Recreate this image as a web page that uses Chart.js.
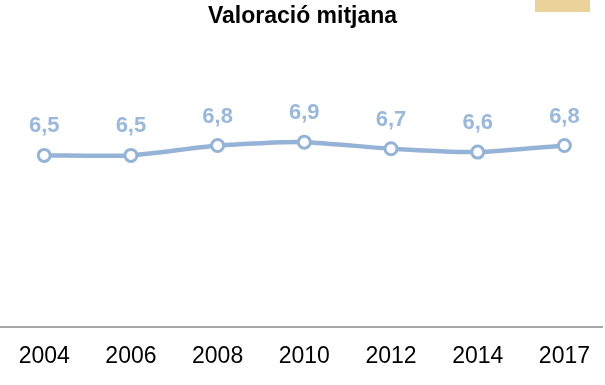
<!DOCTYPE html>
<html>
<head>
<meta charset="utf-8">
<script src="https://cdn.jsdelivr.net/npm/chart.js@4/dist/chart.umd.min.js"></script>
<style>
  html, body { margin: 0; padding: 0; background: #ffffff; }
  #wrap { width: 605px; height: 385px; position: relative; }
</style>
</head>
<body>
<div id="wrap"><canvas id="chart" width="605" height="385"></canvas></div>
<script>
// Survey years and average rating per year
const years = ['2004', '2006', '2008', '2010', '2012', '2014', '2017'];
const ratings = [6.5, 6.5, 6.8, 6.9, 6.7, 6.6, 6.8];
const chartTitle = 'Valoració mitjana';

const lineColor = '#95b3d7';
const fontFamily = '"Liberation Sans", Arial, sans-serif';

// Value labels above each point, written with a decimal comma
const valueLabels = {
  id: 'valueLabels',
  afterDatasetsDraw(chart) {
    const ctx = chart.ctx;
    const meta = chart.getDatasetMeta(0);
    ctx.save();
    ctx.fillStyle = '#9ab8da';
    ctx.font = 'bold 22px ' + fontFamily;
    ctx.textAlign = 'center';
    ctx.textBaseline = 'middle';
    meta.data.forEach((pt, i) => {
      const txt = ratings[i].toFixed(1).replace('.', ',');
      ctx.fillText(txt, pt.x, pt.y - 29);
    });
    ctx.restore();
  }
};

// Small accent band in the top-right corner
const accentBand = {
  id: 'accentBand',
  beforeDraw(chart) {
    const ctx = chart.ctx;
    ctx.save();
    ctx.fillStyle = '#ebd29b';
    ctx.fillRect(535, 0, 55, 12);
    ctx.restore();
  }
};

new Chart(document.getElementById('chart'), {
  type: 'line',
  data: {
    datasets: [{
      data: years.map((_, i) => ({ x: i, y: ratings[i] })),
      borderColor: lineColor,
      borderWidth: 4.5,
      pointRadius: 6,
      pointBorderWidth: 3,
      pointBackgroundColor: '#ffffff',
      pointBorderColor: lineColor,
      tension: 0.2
    }]
  },
  options: {
    responsive: false,
    animation: false,
    events: [],
    layout: { autoPadding: false, padding: { left: 0, right: 0, top: 0, bottom: 0 } },
    plugins: {
      legend: { display: false },
      tooltip: { enabled: false },
      title: {
        display: true,
        text: chartTitle,
        color: '#000000',
        font: { family: fontFamily, size: 23, weight: 'bold' },
        padding: { top: 3, bottom: 9 }
      }
    },
    scales: {
      x: {
        type: 'linear',
        min: -0.51,
        max: 6.44,
        afterBuildTicks(scale) {
          scale.ticks = years.map((_, i) => ({ value: i }));
        },
        grid: { display: false, drawTicks: false },
        border: { display: true, color: '#a6a6a6', width: 2 },
        ticks: {
          color: '#000000',
          padding: 15,
          autoSkip: false,
          maxRotation: 0,
          font: { family: fontFamily, size: 23 },
          callback: (v) => years[v]
        }
      },
      y: {
        display: false,
        min: 1.3,
        max: 10
      }
    }
  },
  plugins: [accentBand, valueLabels]
});
</script>
</body>
</html>
